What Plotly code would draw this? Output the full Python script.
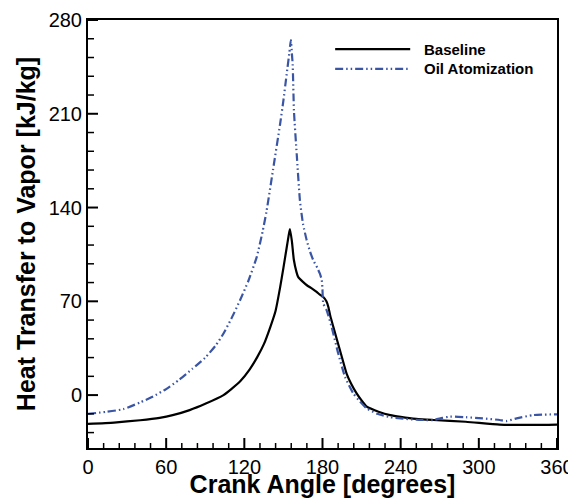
import plotly.graph_objects as go

# crank angle [deg] / heat transfer to vapor [kJ/kg]
base_x = [0, 20, 40, 55, 65, 78, 90, 104, 110, 117, 124, 130, 135, 140, 144,
          147.4, 150, 152.5, 154, 155, 156.5, 158, 160, 161.4, 165, 168, 172,
          175.5, 178, 180.6, 183, 184.5, 186, 188.3, 193.4, 198.5, 202, 206.2,
          210, 214, 223, 232, 240, 252, 265, 290, 316, 342, 360]
base_y = [-21.5, -20.5, -18.8, -17, -15, -11.2, -6.5, 0, 4.5, 10.5, 19, 28.5,
          38, 51, 63, 80, 95, 110, 119, 124, 115, 101, 92, 88, 84.5, 82, 79.5,
          77, 75, 73.2, 70, 65.8, 59, 50.9, 33.5, 16.1, 8.5, 1.3, -4, -8.7,
          -12.4, -15, -16.3, -17.8, -18.6, -19.9, -22, -22.3, -22]

oil_x = [0, 14, 27, 40, 50, 60, 70, 80, 90, 98, 104, 110, 116.7, 123, 129.5,
         134, 137, 142, 147.4, 150, 152.5, 154.5, 155.7, 156.5, 157.1, 158.1,
         160.2, 162.7, 165, 167.9, 170.5, 173, 176, 178, 179.4, 179.9, 180.6,
         183.2, 187, 192.1, 197.3, 203.6, 208, 213.9, 222, 232, 240, 252, 265,
         272, 278, 290, 303, 316, 321, 329, 342, 360]
oil_y = [-14, -12.5, -10.5, -5.5, -1, 4.5, 11.5, 19.5, 28, 37, 46, 57, 70.8,
         85, 103, 122, 137, 168, 202, 220, 239.6, 255, 265, 255, 247, 212, 180,
         145, 128, 115.5, 107, 100.5, 95, 90.6, 86, 80.7, 68.3, 63.3, 50.9, 31,
         13.6, 1.3, -4, -9.9, -14, -16.5, -17.4, -18.4, -18.6, -17, -16.1,
         -16.5, -17.4, -18.6, -19.4, -17.4, -14.9, -14.4]

# tick values
x_major = [0, 60, 120, 180, 240, 300, 360]
x_minor = [v for v in range(12, 360, 12) if v % 60]
y_major = [0, 70, 140, 210, 280]
y_minor = [v for v in range(-28, 280, 14) if v % 70]

XR = [0, 360]
YR = [-39.5, 280]
W, H = 568, 490
ML, MR, MT, MB = 80, 19, 12, 50

BLUE = "#3B55A5"
DASH = "8px,3px,1.5px,3px,1.5px,3px"
FONT = "Liberation Sans, Arial, sans-serif"

fig = go.Figure()
fig.add_trace(go.Scatter(x=base_x, y=base_y, mode="lines", name="Baseline",
                         line=dict(color="black", width=2.2, shape="spline", smoothing=0.5)))
fig.add_trace(go.Scatter(x=oil_x, y=oil_y, mode="lines", name="Oil Atomization",
                         line=dict(color=BLUE, width=2.2, dash=DASH, shape="spline", smoothing=0.5)))

# legend drawn by hand so the line samples are as long as in the original
legend_rows = [("Baseline", "black", "solid", 0.932),
               ("Oil Atomization", BLUE, DASH, 0.886)]
for label, col, dash, yy in legend_rows:
    fig.add_shape(type="line", xref="paper", yref="paper",
                  x0=0.527, x1=0.687, y0=yy, y1=yy,
                  line=dict(color=col, width=2.2, dash=dash))
    fig.add_annotation(xref="paper", yref="paper", x=0.712, y=yy, text=label,
                       showarrow=False, xanchor="left", yanchor="middle",
                       font=dict(family=FONT, size=15, color="black", weight="bold"))

# inward tick marks as plain line traces (pixel lengths turned into axis units)
px_x = (XR[1] - XR[0]) / (W - ML - MR)
px_y = (YR[1] - YR[0]) / (H - MT - MB)


def xticks(vals, ln):
    xs, ys = [], []
    for v in vals:
        xs += [v, v, None]
        ys += [YR[0], YR[0] + ln * px_y, None]
    return xs, ys


def yticks(vals, ln):
    xs, ys = [], []
    for v in vals:
        xs += [XR[0], XR[0] + ln * px_x, None]
        ys += [v, v, None]
    return xs, ys


for fn, vals, ln, w in [(xticks, x_major, 10, 2), (xticks, x_minor, 5, 1.5),
                        (yticks, y_major, 10, 2), (yticks, y_minor, 6, 1.5)]:
    tx, ty = fn(vals, ln)
    fig.add_trace(go.Scatter(x=tx, y=ty, mode="lines", hoverinfo="skip",
                             showlegend=False, connectgaps=False,
                             line=dict(color="black", width=w)))

fig.update_xaxes(
    range=XR, tickmode="array", tickvals=x_major,
    showline=True, linecolor="black", linewidth=2, mirror=True,
    showgrid=False, zeroline=False, automargin=False, ticks="",
    tickfont=dict(family=FONT, size=20, color="black"),
    title=dict(text="Crank Angle [degrees]", standoff=3,
               font=dict(family=FONT, size=25, color="black", weight="bold")),
)
fig.update_yaxes(
    range=YR, tickmode="array", tickvals=y_major,
    showline=True, linecolor="black", linewidth=2, mirror=True,
    showgrid=False, zeroline=False, automargin=False, ticks="",
    tickfont=dict(family=FONT, size=20, color="black"),
    title=dict(text="Heat Transfer to Vapor [kJ/kg]", standoff=6,
               font=dict(family=FONT, size=25, color="black", weight="bold")),
)

# the page body keeps its 8px margin, so the figure is 8px smaller each way
fig.update_layout(
    template="none",
    width=W, height=H,
    margin=dict(l=ML, r=MR, t=MT, b=MB),
    paper_bgcolor="white", plot_bgcolor="white",
    showlegend=False,
)

fig.write_html("out.html")
